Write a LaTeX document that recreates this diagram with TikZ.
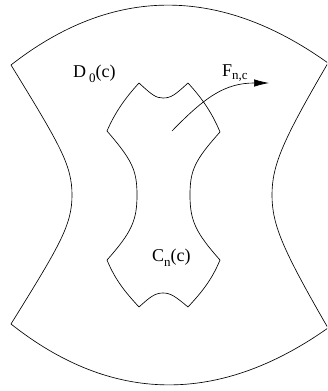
\documentclass[tikz,border=0pt]{standalone}
\usepackage{fontspec}
\setmainfont{Liberation Serif}
\usetikzlibrary{arrows.meta}
\newcommand\sbs[1]{\raisebox{-0.32em}{\fontsize{13}{14}\selectfont #1}}
\newcommand\sbf[1]{\raisebox{-0.2em}{\fontsize{13}{14}\selectfont #1}}
\tikzset{
  curve/.style={line width=0.65pt, line join=miter},
  lbl/.style={anchor=base west, inner sep=0pt, font=\fontsize{18}{20}\selectfont},
  flow/.style={line width=0.65pt, -{Latex[length=15pt,width=7.5pt]}}
}
\begin{document}
\begin{tikzpicture}[x=1pt,y=-1pt]
\useasboundingbox (0,0) rectangle (327,391);
\clip (0,0) rectangle (327,391);
% outer region
\draw[curve] (11,65) .. controls (112,-14) and (219,-15) .. (328,63)
  .. controls (283,140) and (272,165) .. (272,195)
  .. controls (272,225) and (283,250) .. (328,328)
  .. controls (219,405) and (112,404) .. (11,324)
  .. controls (60,245) and (72,225) .. (72,195)
  .. controls (72,165) and (60,145) .. cycle;
% inner region
\draw[curve] (139,83) .. controls (152,95) and (156,98) .. (163,98)
  .. controls (171,98) and (175,95) .. (188,83)
  .. controls (199,95) and (211,110) .. (220,132)
  .. controls (195,160) and (190,170) .. (190,195)
  .. controls (190,220) and (195,232) .. (220,260)
  .. controls (211,282) and (199,295) .. (188,307)
  .. controls (176,297) and (171,293) .. (163,293)
  .. controls (155,293) and (150,297) .. (139,307)
  .. controls (128,295) and (116,282) .. (107,260)
  .. controls (132,232) and (137,220) .. (137,195)
  .. controls (137,170) and (132,160) .. (107,131)
  .. controls (116,110) and (128,95) .. cycle;
% labels
\node[lbl] (d0) at (73,77) {D\hspace{3pt}\sbs{0}(c)};
\node[lbl] (cn) at (152,261) {C\sbs{n}(c)};
\node[lbl] (fn) at (222,76) {F\sbf{n,c}};
% arrow
\coordinate (a0) at (172,131);
\coordinate (a1) at (269,83);
\draw[flow] (a0) .. controls (205,97) and (225,83) .. (a1);
\end{tikzpicture}
\end{document}
